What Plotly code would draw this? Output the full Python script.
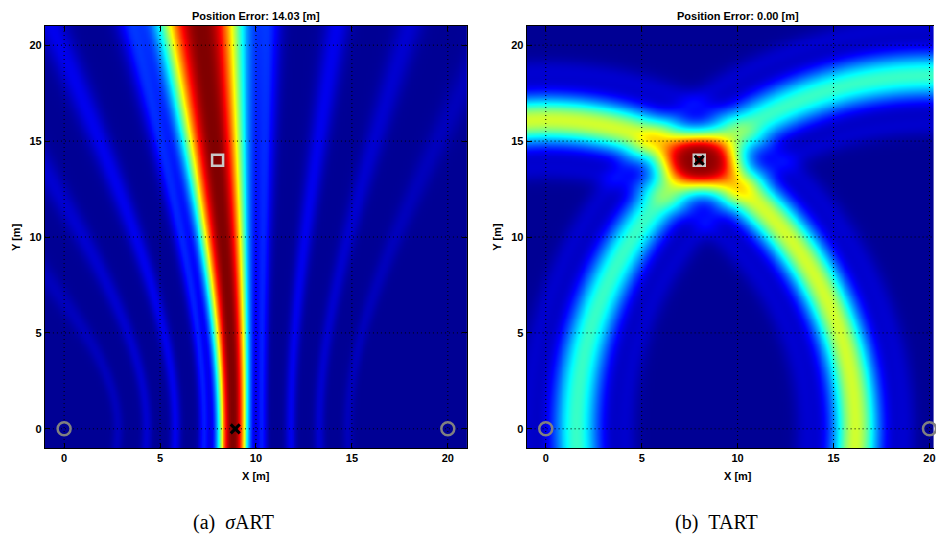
import numpy as np
import plotly.graph_objects as go

# ---- values ----
anchor_x = [0, 20]
anchor_y = [0, 0]
true_x, true_y = [8], [14]
est_sart_x, est_sart_y = [8.92], [0]
est_tart_x, est_tart_y = [8], [14]
titles = ["Position Error: 14.03 [m]", "Position Error: 0.00 [m]"]
captions = ["(a)\u00a0\u00a0<i>σ</i>ART", "(b)\u00a0\u00a0TART"]
tick_vals = [0, 5, 10, 15, 20]
tick_text = ["0", "5", "10", "15", "20"]

# sigma-ART (range-difference) likelihood band
sart_range_diff = 2.45          # d2 - d1 at band centre [m]
sart_width_bottom = 1.5         # band half width near y = 0 [m]
sart_width_top = 1.8            # band half width near y = 21 [m]
sart_side_offsets = [3.0, -3.0, 6.0, -6.0, 9.0, -9.0, 12.0, -12.0]
sart_side_levels = [0.13, 0.13, 0.09, 0.09, 0.06, 0.06, 0.04, 0.04]
sart_side_width = 0.55

# TART (range) likelihood rings
tart_ranges = [16.12, 18.44]    # distances of target to anchors [m]
tart_peaks = [0.56, 0.41]
tart_width = 1.25
tart_cross_level = 0.27
tart_cross_width = 1.6
tart_side_offsets = [2.6, -2.6]
tart_side_levels = [0.05, 0.05]
tart_side_width = 0.6

background = 0.02

# ---- build the image grids ----
g = np.arange(-1.0, 21.0001, 0.1)
X, Y = np.meshgrid(g, g)
d = [np.hypot(X - ax, Y - ay) for ax, ay in zip(anchor_x, anchor_y)]

u = (d[1] - d[0]) - sart_range_diff
s = sart_width_bottom + (sart_width_top - sart_width_bottom) * (Y + 1) / 22.0
z_sart = np.exp(-(np.abs(u) / s) ** 2.5)
for off, lev in zip(sart_side_offsets, sart_side_levels):
    z_sart += lev * np.exp(-((u - off) / sart_side_width) ** 2)
z_sart = np.clip(z_sart * 0.98 + background, 0, 1)

z_tart = np.zeros_like(X)
cross = np.ones_like(X)
for di, r, a in zip(d, tart_ranges, tart_peaks):
    v = di - r
    z_tart += a * np.exp(-(v / tart_width) ** 2)
    cross *= np.exp(-(v / tart_cross_width) ** 2)
    for off, lev in zip(tart_side_offsets, tart_side_levels):
        z_tart += lev * np.exp(-((v - off) / tart_side_width) ** 2)
z_tart += tart_cross_level * cross + background
knee = 0.75
z_tart = np.where(z_tart > knee, knee + 0.25 * np.tanh((z_tart - knee) / 0.25), z_tart)
z_tart = np.clip(z_tart, 0, 1)

jet = [[0, "#000080"], [0.125, "#0000ff"], [0.375, "#00ffff"],
       [0.625, "#ffff00"], [0.875, "#ff0000"], [1, "#800000"]]

# the page body has an 8 px margin on every side: the figure is sized to fit
# inside it and reference pixel positions are shifted by that margin
OFF = 8
W, H = 944 - 2 * OFF, 544 - 2 * OFF
L0, L1 = 45, 468          # left panel (reference pixels)
R0 = 527.7                # right panel left edge
T, B = 26, 448
ppu = (L1 - L0) / 22.0
r_max = -1 + (W + OFF - R0) / ppu

px = lambda p: (p - OFF) / W
py = lambda p: 1 - (p - OFF) / H

fig = go.Figure()
for i, (z, xa, ya) in enumerate([(z_sart, "x", "y"), (z_tart, "x2", "y2")]):
    fig.add_trace(go.Heatmap(x=g, y=g, z=np.round(z, 3), colorscale=jet, zmin=0, zmax=1,
                             showscale=False, zsmooth="best", xaxis=xa, yaxis=ya,
                             hoverinfo="skip"))
    xmax = 21 if i == 0 else r_max
    gx, gy = [], []
    for t in tick_vals:
        gx += [t, t, None]
        gy += [-1, 21, None]
        gx += [-1, xmax, None]
        gy += [t, t, None]
    fig.add_trace(go.Scatter(x=gx, y=gy, mode="lines", xaxis=xa, yaxis=ya,
                             line=dict(color="black", width=1, dash="1px,3px"),
                             hoverinfo="skip", showlegend=False))
    fig.add_trace(go.Scatter(x=anchor_x, y=anchor_y, mode="markers", xaxis=xa, yaxis=ya,
                             marker=dict(symbol="circle-open", size=13, color="#808080",
                                         line=dict(width=2.5, color="#808080")),
                             showlegend=False, cliponaxis=False))
    fig.add_trace(go.Scatter(x=true_x, y=true_y, mode="markers", xaxis=xa, yaxis=ya,
                             marker=dict(symbol="square-open", size=11, color="#c8c8c8",
                                         line=dict(width=2.5, color="#c8c8c8")),
                             showlegend=False))
    ex, ey = (est_sart_x, est_sart_y) if i == 0 else (est_tart_x, est_tart_y)
    fig.add_trace(go.Scatter(x=ex, y=ey, mode="markers", xaxis=xa, yaxis=ya,
                             marker=dict(symbol="x-thin-open", size=9, color="black",
                                         line=dict(width=3, color="black")),
                             showlegend=False))

tickfont = dict(family="Liberation Sans", size=11, color="black", weight="bold")
axcommon = dict(showline=True, linecolor="black", linewidth=1, ticks="inside", ticklen=5,
                tickcolor="black", tickvals=tick_vals, ticktext=tick_text, tickfont=tickfont,
                showgrid=False, zeroline=False, fixedrange=True, ticklabeloverflow="allow")

fig.update_layout(
    width=W, height=H, margin=dict(l=0, r=0, t=0, b=0),
    paper_bgcolor="white", plot_bgcolor="white", showlegend=False,
    xaxis=dict(domain=[px(L0), px(L1)], range=[-1, 21], anchor="y", mirror="ticks", **axcommon),
    yaxis=dict(domain=[py(B), py(T)], range=[-1, 21], anchor="x", mirror="ticks", **axcommon),
    xaxis2=dict(domain=[px(R0), 1.0], range=[-1, r_max], anchor="y2", mirror="ticks", **axcommon),
    yaxis2=dict(domain=[py(B), py(T)], range=[-1, 21], anchor="x2", mirror=False, **axcommon),
)

lab = dict(family="Liberation Sans", size=11, color="black", weight="bold")
centers = [(L0 + L1) / 2, R0 + 211.5]
cap_x = [234, 718]
ann = []
for c, t, cap, cx, yl in zip(centers, titles, captions, cap_x, [16, R0 - 30]):
    ann.append(dict(x=px(c), y=1.0, xref="paper", yref="paper", text=t, showarrow=False,
                    font=lab, xanchor="center", yanchor="top"))
    ann.append(dict(x=px(c), y=py(476), xref="paper", yref="paper", text="X [m]", showarrow=False,
                    font=lab, xanchor="center", yanchor="middle"))
    ann.append(dict(x=px(yl), y=py(237), xref="paper", yref="paper", text="Y [m]", showarrow=False,
                    font=lab, xanchor="center", yanchor="middle", textangle=-90))
    ann.append(dict(x=px(cx), y=0.0, xref="paper", yref="paper", text=cap, showarrow=False,
                    font=dict(family="Liberation Serif", size=20, color="black"),
                    xanchor="center", yanchor="bottom"))
fig.update_layout(annotations=ann)

fig.write_html("out.html")
